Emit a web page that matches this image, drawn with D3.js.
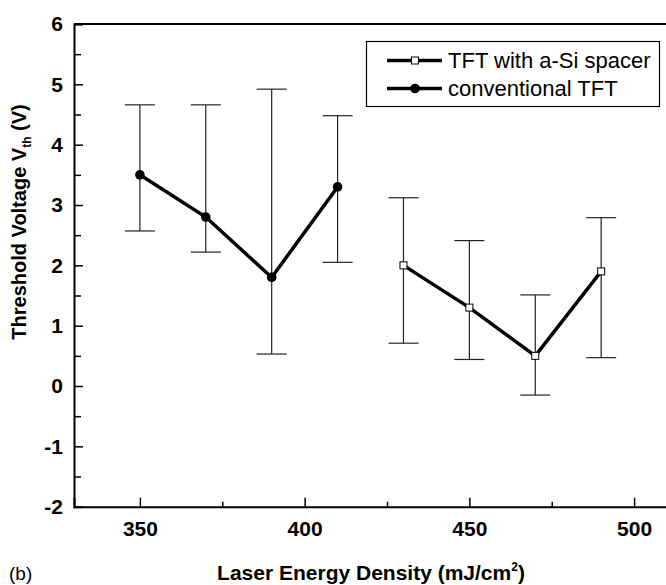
<!DOCTYPE html>
<html>
<head>
<meta charset="utf-8">
<script src="https://cdn.jsdelivr.net/npm/d3@7/dist/d3.min.js"></script>
<style>
  html, body { margin: 0; padding: 0; background: #fff; }
  svg { display: block; }
  text { font-family: "Liberation Sans", Arial, sans-serif; fill: #000; }
</style>
</head>
<body>
<svg id="chart" width="666" height="585"></svg>
<script>
// Laser energy density (mJ/cm²) and threshold voltage (V)
const convEnergy = [350, 370, 390, 410];
const convVth    = [3.5, 2.8, 1.8, 3.3];
const convLow    = [2.57, 2.22, 0.53, 2.05];
const convHigh   = [4.66, 4.66, 4.92, 4.48];

const spacerEnergy = [430, 450, 470, 490];
const spacerVth    = [2.0, 1.3, 0.5, 1.9];
const spacerLow    = [0.71, 0.44, -0.15, 0.47];
const spacerHigh   = [3.12, 2.41, 1.51, 2.79];

const xMajorTicks = [350, 400, 450, 500];
const xMinorTicks = [375, 425, 475];
const yMajorTicks = [-2, -1, 0, 1, 2, 3, 4, 5, 6];
const yMinorTicks = [-1.5, -0.5, 0.5, 1.5, 2.5, 3.5, 4.5, 5.5];

const legendLabels = ["TFT with a-Si spacer", "conventional TFT"];

const svg = d3.select("#chart");
const plotL = 74, plotT = 24, plotR = 700, plotB = 506.7;

const x = d3.scaleLinear().domain([330, 520]).range([plotL, plotR]);
const y = d3.scaleLinear().domain([-2, 6]).range([plotB, plotT]);

// plain hyphen for negative tick values
const fmt = d => String(d);

// Frame (right edge runs past the canvas)
svg.append("line").attr("x1", plotL).attr("x2", plotR).attr("y1", plotT).attr("y2", plotT)
  .attr("stroke", "#000").attr("stroke-width", 2);

// Axes with inward ticks
const xAxis = svg.append("g").attr("transform", `translate(0,${plotB})`)
  .call(d3.axisBottom(x).tickValues(xMajorTicks).tickSize(-9).tickPadding(14).tickFormat(fmt));
svg.append("g").attr("transform", `translate(0,${plotB})`)
  .call(d3.axisBottom(x).tickValues(xMinorTicks).tickSize(-5).tickFormat(""))
  .call(g => g.select(".domain").remove());

const yAxis = svg.append("g").attr("transform", `translate(${plotL},0)`)
  .call(d3.axisLeft(y).tickValues(yMajorTicks).tickSize(-9).tickPadding(11).tickFormat(fmt));
svg.append("g").attr("transform", `translate(${plotL},0)`)
  .call(d3.axisLeft(y).tickValues(yMinorTicks).tickSize(-7).tickFormat(""))
  .call(g => g.select(".domain").remove());

svg.selectAll(".domain").attr("stroke", "#000").attr("stroke-width", 2);
svg.selectAll(".tick line").attr("stroke", "#000").attr("stroke-width", 1.5);
svg.selectAll(".tick text").attr("font-size", 21).attr("font-weight", "bold")
  .attr("font-family", "Liberation Sans, Arial, sans-serif").attr("fill", "#000");
xAxis.selectAll(".tick text").attr("dy", "0.71em");

// Error bars
function errorBars(xs, lo, hi) {
  const g = svg.append("g").attr("stroke", "#222").attr("stroke-width", 1.2);
  xs.forEach((v, i) => {
    g.append("line").attr("x1", x(v)).attr("x2", x(v)).attr("y1", y(lo[i])).attr("y2", y(hi[i]));
    [lo[i], hi[i]].forEach(e => {
      g.append("line").attr("x1", x(v) - 15).attr("x2", x(v) + 15).attr("y1", y(e)).attr("y2", y(e));
    });
  });
}
errorBars(convEnergy, convLow, convHigh);
errorBars(spacerEnergy, spacerLow, spacerHigh);

// Connecting lines
const line = d3.line().x(d => x(d[0])).y(d => y(d[1]));
svg.append("path").datum(convEnergy.map((e, i) => [e, convVth[i]]))
  .attr("d", line).attr("fill", "none").attr("stroke", "#000").attr("stroke-width", 3.5);
svg.append("path").datum(spacerEnergy.map((e, i) => [e, spacerVth[i]]))
  .attr("d", line).attr("fill", "none").attr("stroke", "#000").attr("stroke-width", 3.5);

// Markers
svg.append("g").selectAll("circle").data(convEnergy).join("circle")
  .attr("cx", d => x(d)).attr("cy", (d, i) => y(convVth[i])).attr("r", 4.8).attr("fill", "#000");
svg.append("g").selectAll("rect").data(spacerEnergy).join("rect")
  .attr("x", d => x(d) - 3.5).attr("y", (d, i) => y(spacerVth[i]) - 3.5)
  .attr("width", 7).attr("height", 7).attr("fill", "#fff").attr("stroke", "#000").attr("stroke-width", 1);

// Legend
const lg = svg.append("g");
lg.append("rect").attr("x", 366.5).attr("y", 41.5).attr("width", 293).attr("height", 65)
  .attr("fill", "#fff").attr("stroke", "#000").attr("stroke-width", 1.2);
const rows = [60.5, 88.5];
legendLabels.forEach((lab, i) => {
  lg.append("line").attr("x1", 387).attr("x2", 442).attr("y1", rows[i]).attr("y2", rows[i])
    .attr("stroke", "#000").attr("stroke-width", 3.5);
  if (i === 0) {
    lg.append("rect").attr("x", 411.5).attr("y", rows[i] - 3.5).attr("width", 7).attr("height", 7)
      .attr("fill", "#fff").attr("stroke", "#000").attr("stroke-width", 1);
  } else {
    lg.append("circle").attr("cx", 415).attr("cy", rows[i]).attr("r", 4.8).attr("fill", "#000");
  }
  lg.append("text").attr("x", 448).attr("y", rows[i]).attr("dy", "0.36em")
    .attr("font-size", 22).text(lab);
});

// Axis titles
const xt = svg.append("text").attr("x", 371).attr("y", 580).attr("text-anchor", "middle")
  .attr("font-size", 21).attr("font-weight", "bold");
xt.append("tspan").text("Laser Energy Density (mJ/cm");
xt.append("tspan").attr("dy", -9).attr("font-size", 12).text("2");
xt.append("tspan").attr("dy", 9).text(")");

const yt = svg.append("text").attr("transform", "translate(26,222) rotate(-90)")
  .attr("text-anchor", "middle").attr("font-size", 20).attr("font-weight", "bold");
yt.append("tspan").text("Threshold Voltage V");
yt.append("tspan").attr("dy", 5).attr("font-size", 12).text("th");
yt.append("tspan").attr("dy", -5).text(" (V)");

svg.append("text").attr("x", 9).attr("y", 580).attr("font-size", 19).text("(b)");
</script>
</body>
</html>
